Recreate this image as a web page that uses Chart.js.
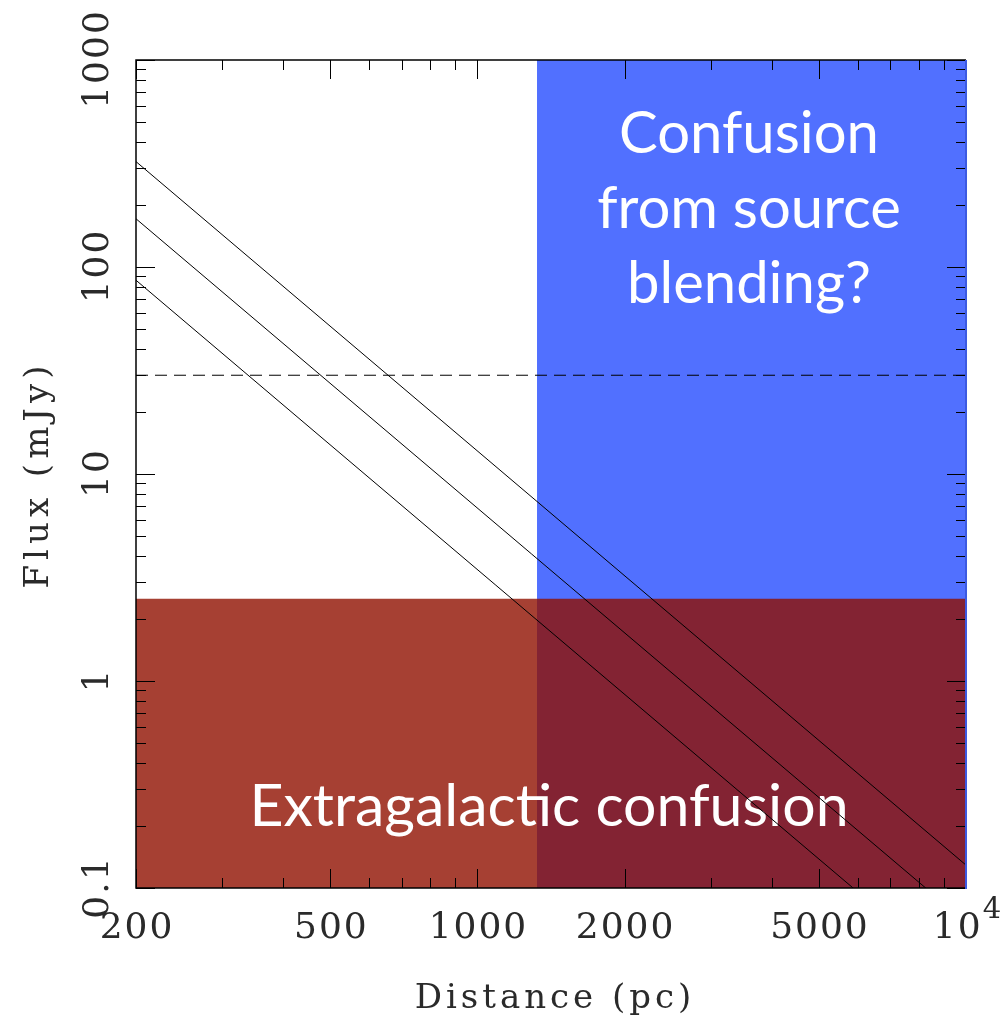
<!DOCTYPE html>
<html>
<head>
<meta charset="utf-8">
<script src="https://cdn.jsdelivr.net/npm/chart.js@4.4.1/dist/chart.umd.min.js"></script>
<style>
  html, body { margin: 0; padding: 0; background: #ffffff; }
  #wrap { width: 1006px; height: 1029px; }
</style>
</head>
<body>
<div id="wrap"><canvas id="c" width="1006" height="1029"></canvas></div>
<script>
// Distance axis (pc) and flux axis (mJy) limits
const distanceLimits = [200, 10000];
const fluxLimits = [0.1, 1000];

// Flux-vs-distance tracks (inverse-square), endpoints at 200 pc and 10^4 pc
const trackDistances = [200, 10000];
const trackBright = [323, 0.129];
const trackMid = [171, 0.0684];
const trackFaint = [86.3, 0.0345];

// Survey sensitivity limit (dashed)
const sensitivityFlux = 30;

// Confusion regimes
const blendingDistance = 1324;      // source blending beyond this distance
const extragalacticFlux = 2.5;      // extragalactic confusion below this flux

// Tick values and labels
const xMajorTicks = [200, 500, 1000, 2000, 5000, 10000];
const xTickLabels = ['200', '500', '1000', '2000', '5000', '10^4'];
const yMajorTicks = [0.1, 1, 10, 100, 1000];
const yTickLabels = ['0.1', '1', '10', '100', '1000'];

const BLUE = 'rgb(81,112,255)';
const RED = 'rgba(144,16,0,0.8)';
const SERIF = '"DejaVu Serif", serif';
const SANS = 'Lato, "Open Sans", sans-serif';

function minorTicks(lo, hi) {
  const out = [];
  for (let e = Math.floor(Math.log10(lo)); e <= Math.ceil(Math.log10(hi)); e++) {
    for (let m = 2; m <= 9; m++) {
      const v = m * Math.pow(10, e);
      if (v > lo && v < hi) out.push(v);
    }
  }
  return out;
}

// Centre a string that is drawn with extra letter spacing
function spacedText(ctx, text, cx, cy, spacing) {
  ctx.letterSpacing = spacing + 'px';
  ctx.textAlign = 'left';
  const w = ctx.measureText(text).width - spacing;
  ctx.fillText(text, cx - w / 2, cy);
  ctx.letterSpacing = '0px';
}

const regionText = {
  id: 'regionText',
  afterDatasetDraw(chart, args) {
    if (args.meta.label !== 'extragalactic') return;
    const ctx = chart.ctx;
    const x = chart.scales.x;
    ctx.save();
    ctx.fillStyle = '#ffffff';
    ctx.textAlign = 'center';
    ctx.textBaseline = 'alphabetic';
    ctx.font = '58px ' + SANS;
    const cx = 749;
    ctx.fillText('Confusion', cx, 153);
    ctx.fillText('from source', cx, 228);
    ctx.fillText('blending?', cx, 303);
    ctx.font = '59px ' + SANS;
    ctx.fillText('Extragalactic confusion', 549, 826);
    ctx.restore();
  }
};

const frameAxes = {
  id: 'frameAxes',
  afterDraw(chart) {
    const ctx = chart.ctx;
    const x = chart.scales.x, y = chart.scales.y;
    const L = x.left, R = x.right, T = y.top, B = y.bottom;
    const major = 19, minor = 10;
    ctx.save();
    ctx.strokeStyle = '#000';
    ctx.lineWidth = 1;
    ctx.beginPath();
    const xm = minorTicks(distanceLimits[0], distanceLimits[1]).filter(v => !xMajorTicks.includes(v));
    xMajorTicks.concat(xm).forEach(v => {
      const len = xMajorTicks.includes(v) ? major : minor;
      const px = Math.round(x.getPixelForValue(v)) + 0.5;
      ctx.moveTo(px, B); ctx.lineTo(px, B - len);
      ctx.moveTo(px, T); ctx.lineTo(px, T + len);
    });
    const ym = minorTicks(fluxLimits[0], fluxLimits[1]);
    yMajorTicks.concat(ym).forEach(v => {
      const len = yMajorTicks.includes(v) ? major : minor;
      const py = Math.round(y.getPixelForValue(v)) + 0.5;
      ctx.moveTo(L, py); ctx.lineTo(L + len, py);
      ctx.moveTo(R, py); ctx.lineTo(R - len, py);
    });
    ctx.stroke();

    // frame
    ctx.lineWidth = 1.5;
    ctx.beginPath();
    ctx.moveTo(R, T); ctx.lineTo(L, T); ctx.lineTo(L, B); ctx.lineTo(R, B);
    ctx.stroke();
    ctx.lineWidth = 2;
    ctx.strokeStyle = 'rgb(60,90,225)';
    ctx.beginPath();
    ctx.moveTo(R, T); ctx.lineTo(R, B + 1);
    ctx.stroke();

    // tick labels
    ctx.fillStyle = '#2a2a2a';
    ctx.textBaseline = 'alphabetic';
    xMajorTicks.forEach((v, i) => {
      const px = x.getPixelForValue(v);
      const lab = xTickLabels[i];
      ctx.font = '36px ' + SERIF;
      if (lab.includes('^')) {
        const [base, exp] = lab.split('^');
        ctx.letterSpacing = '2px';
        const w1 = ctx.measureText(base).width;
        ctx.font = '29px ' + SERIF;
        const w2 = ctx.measureText(exp).width;
        const sx = px - (w1 + w2) / 2 + 2;
        ctx.textAlign = 'left';
        ctx.font = '36px ' + SERIF;
        ctx.fillText(base, sx, 938);
        ctx.font = '29px ' + SERIF;
        ctx.fillText(exp, sx + w1, 918);
        ctx.letterSpacing = '0px';
      } else {
        spacedText(ctx, lab, px, 938, 2);
      }
    });
    ctx.font = '36px ' + SERIF;
    yMajorTicks.forEach((v, i) => {
      const py = y.getPixelForValue(v);
      ctx.save();
      ctx.translate(108, py);
      ctx.rotate(-Math.PI / 2);
      spacedText(ctx, yTickLabels[i], 0, 0, 2);
      ctx.restore();
    });

    // axis titles
    ctx.font = '34px ' + SERIF;
    spacedText(ctx, 'Distance (pc)', 553, 1008, 4);
    ctx.save();
    ctx.translate(48, 477);
    ctx.rotate(-Math.PI / 2);
    spacedText(ctx, 'Flux (mJy)', 0, 0, 5);
    ctx.restore();
    ctx.restore();
  }
};

const toPoints = (xs, ys) => xs.map((v, i) => ({ x: v, y: ys[i] }));

const lineStyle = {
  borderColor: '#000',
  borderWidth: 1,
  pointRadius: 0,
  fill: false,
  order: 1
};

new Chart(document.getElementById('c'), {
  type: 'line',
  data: {
    datasets: [
      Object.assign({ label: 'bright', data: toPoints(trackDistances, trackBright) }, lineStyle),
      Object.assign({ label: 'mid', data: toPoints(trackDistances, trackMid) }, lineStyle),
      Object.assign({ label: 'faint', data: toPoints(trackDistances, trackFaint) }, lineStyle),
      Object.assign({ label: 'sensitivity', data: toPoints(distanceLimits, [sensitivityFlux, sensitivityFlux]), borderDash: [12, 7] }, lineStyle),
      {
        label: 'extragalactic',
        data: toPoints(distanceLimits, [extragalacticFlux, extragalacticFlux]),
        borderWidth: 0, pointRadius: 0,
        backgroundColor: RED,
        fill: { value: fluxLimits[0] },
        order: 2
      },
      {
        label: 'blending',
        data: toPoints([blendingDistance, distanceLimits[1]], [fluxLimits[1], fluxLimits[1]]),
        borderWidth: 0, pointRadius: 0,
        backgroundColor: BLUE,
        fill: { value: fluxLimits[0] },
        order: 3
      }
    ]
  },
  options: {
    responsive: false,
    animation: false,
    events: [],
    layout: { padding: { left: 136, top: 60, right: 40, bottom: 141 } },
    plugins: { legend: { display: false }, tooltip: { enabled: false }, title: { display: false } },
    scales: {
      x: { type: 'logarithmic', min: distanceLimits[0], max: distanceLimits[1], display: false },
      y: { type: 'logarithmic', min: fluxLimits[0], max: fluxLimits[1], display: false }
    }
  },
  plugins: [regionText, frameAxes]
});
</script>
</body>
</html>
